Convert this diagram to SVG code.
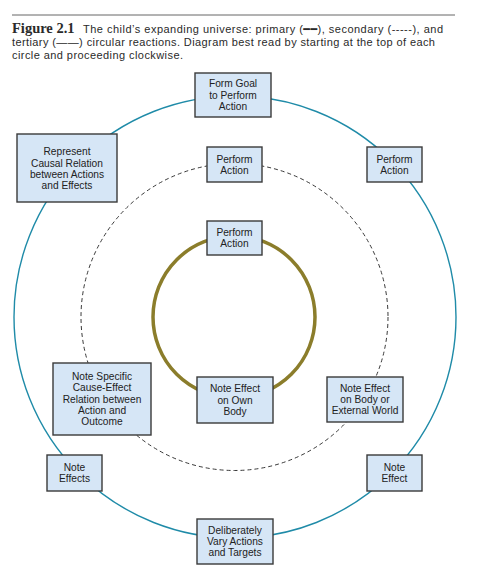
<svg xmlns="http://www.w3.org/2000/svg" width="487" height="578" viewBox="0 0 487 578">
<style>
.cap{font-family:"Liberation Sans",Arial,sans-serif;font-size:11px;fill:#2a2a2a}
.fig{font-family:"Liberation Serif","Times New Roman",serif;font-size:14.5px;font-weight:bold;fill:#2a2a2a}
.box{fill:#d6e6f6;stroke:#3a3a3a;stroke-width:1.4}
.lbl{font-family:"Liberation Sans",Arial,sans-serif;font-size:10.2px;fill:#222;text-anchor:middle}
.outer{fill:none;stroke:#1f8ba8;stroke-width:1.4}
.mid{fill:none;stroke:#222;stroke-width:0.9;stroke-dasharray:4 3}
.inner{fill:none;stroke:#8b7d2b;stroke-width:3.5}
</style>
<rect width="487" height="578" fill="#fff"/>
<line x1="12" y1="15" x2="455" y2="15" stroke="#666" stroke-width="1"/>
<text x="12" y="32.5" class="fig">Figure 2.1</text>
<text x="83" y="32.5" class="cap" textLength="360" lengthAdjust="spacing">The child’s expanding universe: primary (<tspan font-family="DejaVu Sans" font-weight="bold">━━</tspan>), secondary (-----), and</text>
<text x="12" y="45.5" class="cap" textLength="423" lengthAdjust="spacing">tertiary (——) circular reactions. Diagram best read by starting at the top of each</text>
<text x="12" y="58.5" class="cap" textLength="171" lengthAdjust="spacing">circle and proceeding clockwise.</text>

<g id="connectors">
<circle class="outer" cx="235" cy="317" r="221"/>
<circle class="mid" cx="234.5" cy="317" r="153.5"/>
<circle class="inner" cx="234" cy="317" r="81"/>
</g>

<g id="form-goal">
<rect class="box" x="195" y="73" width="76" height="44"/>
<text class="lbl" x="233" y="87.3">Form Goal</text>
<text class="lbl" x="233" y="98.6">to Perform</text>
<text class="lbl" x="233" y="109.9">Action</text>
</g>
<g id="represent">
<rect class="box" x="17" y="134" width="100" height="68"/>
<text class="lbl" x="67" y="155.2">Represent</text>
<text class="lbl" x="67" y="166.5">Causal Relation</text>
<text class="lbl" x="67" y="177.8">between Actions</text>
<text class="lbl" x="67" y="189.1">and Effects</text>
</g>
<g id="perform-outer">
<rect class="box" x="367" y="147" width="55" height="35"/>
<text class="lbl" x="394.5" y="162.5">Perform</text>
<text class="lbl" x="394.5" y="173.8">Action</text>
</g>
<g id="perform-mid">
<rect class="box" x="207" y="147" width="55" height="35"/>
<text class="lbl" x="234.5" y="162.5">Perform</text>
<text class="lbl" x="234.5" y="173.8">Action</text>
</g>
<g id="perform-inner">
<rect class="box" x="207" y="221" width="55" height="34"/>
<text class="lbl" x="234.5" y="236">Perform</text>
<text class="lbl" x="234.5" y="247.3">Action</text>
</g>
<g id="note-specific">
<rect class="box" x="53" y="363" width="98" height="72"/>
<text class="lbl" x="102" y="380">Note Specific</text>
<text class="lbl" x="102" y="391.3">Cause-Effect</text>
<text class="lbl" x="102" y="402.6">Relation between</text>
<text class="lbl" x="102" y="413.9">Action and</text>
<text class="lbl" x="102" y="425.2">Outcome</text>
</g>
<g id="note-own-body">
<rect class="box" x="197" y="377" width="76" height="46"/>
<text class="lbl" x="235" y="392.3">Note Effect</text>
<text class="lbl" x="235" y="403.6">on Own</text>
<text class="lbl" x="235" y="414.9">Body</text>
</g>
<g id="note-external">
<rect class="box" x="327" y="377" width="76" height="45"/>
<text class="lbl" x="365" y="391.8">Note Effect</text>
<text class="lbl" x="365" y="403.1">on Body or</text>
<text class="lbl" x="365" y="414.4">External World</text>
</g>
<g id="note-effects">
<rect class="box" x="47" y="455" width="55" height="36"/>
<text class="lbl" x="74.5" y="470.9">Note</text>
<text class="lbl" x="74.5" y="482.2">Effects</text>
</g>
<g id="note-effect">
<rect class="box" x="367" y="455" width="55" height="36"/>
<text class="lbl" x="394.5" y="470.9">Note</text>
<text class="lbl" x="394.5" y="482.2">Effect</text>
</g>
<g id="deliberately">
<rect class="box" x="197" y="519" width="76" height="45"/>
<text class="lbl" x="235" y="533.8">Deliberately</text>
<text class="lbl" x="235" y="545.1">Vary Actions</text>
<text class="lbl" x="235" y="556.4">and Targets</text>
</g>
</svg>
